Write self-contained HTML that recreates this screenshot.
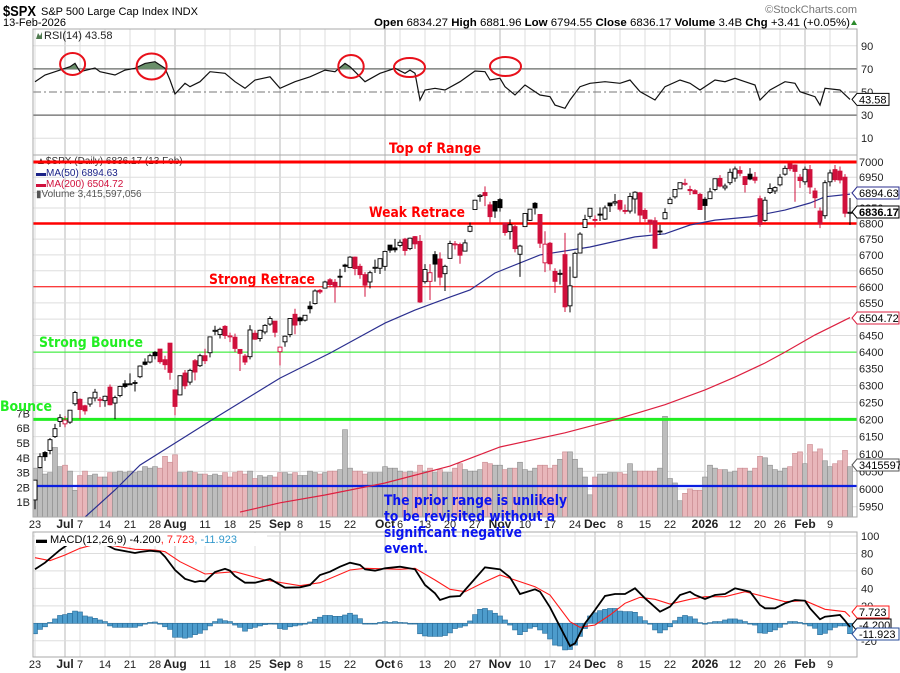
<!DOCTYPE html>
<html><head><meta charset="utf-8"><style>
html,body{margin:0;padding:0;background:#fff;}
svg{display:block;font-family:"Liberation Sans",Arial,sans-serif;}
</style></head><body>
<svg id="chart" xmlns="http://www.w3.org/2000/svg" width="900" height="673" viewBox="0 0 900 673">
<rect x="0" y="0" width="900" height="673" fill="#fff"/>
<text x="3" y="16" font-size="15" font-weight="bold" textLength="33" lengthAdjust="spacingAndGlyphs">$SPX</text>
<text x="41" y="15" font-size="11">S&amp;P 500 Large Cap Index  INDX</text>
<text x="3" y="26" font-size="11">13-Feb-2026</text>
<text x="857" y="13" font-size="11" fill="#777" text-anchor="end">©StockCharts.com</text>
<text x="374" y="26" font-size="11" textLength="476" lengthAdjust="spacingAndGlyphs"><tspan font-weight="bold">Open</tspan> 6834.27  <tspan font-weight="bold">High</tspan> 6881.96  <tspan font-weight="bold">Low</tspan> 6794.55  <tspan font-weight="bold">Close</tspan> 6836.17  <tspan font-weight="bold">Volume</tspan> 3.4B  <tspan font-weight="bold">Chg</tspan> +3.41 (+0.05%)</text>
<path d="M851 25 L854 20 L857 25 Z" fill="#2a8a2a"/>
<g id="layer"></g>
</svg>
<script>
const categoriesNote = "bar index 0 = 23-Jun-2025 ... 163 = 13-Feb-2026";
const closes=[6025,6092,6092,6141,6173,6205,6198,6227,6279,6229,6225,6263,6280,6259,6268,6243,6264,6297,6297,6305,6309,6358,6363,6389,6389,6371,6362,6339,6238,6329,6299,6345,6340,6389,6374,6446,6466,6469,6450,6449,6411,6396,6370,6467,6439,6466,6481,6502,6460,6415,6448,6502,6482,6495,6512,6532,6587,6584,6615,6607,6600,6631,6664,6693,6657,6638,6605,6644,6661,6688,6711,6715,6716,6740,6714,6753,6735,6553,6654,6644,6671,6630,6664,6736,6735,6699,6738,6791,6875,6891,6890,6822,6840,6851,6771,6796,6720,6728,6832,6846,6850,6737,6734,6672,6617,6642,6538,6603,6705,6766,6813,6849,6812,6829,6850,6857,6870,6846,6840,6887,6901,6827,6816,6800,6721,6775,6835,6878,6910,6932,6930,6906,6896,6845,6858,6902,6945,6921,6921,6966,6977,6963,6926,6944,6940,6797,6875,6913,6916,6950,6979,6978,6969,6939,6976,6918,6883,6798,6932,6964,6942,6941,6833,6836];
const opens=[5969,6061,6104,6110,6150,6194,6187,6192,6246,6259,6240,6245,6263,6256,6255,6295,6248,6270,6305,6305,6307,6326,6370,6370,6399,6409,6377,6427,6287,6272,6337,6310,6374,6359,6389,6398,6466,6453,6478,6449,6445,6408,6388,6386,6457,6441,6461,6485,6494,6401,6431,6453,6515,6504,6497,6540,6548,6589,6596,6622,6614,6633,6668,6660,6693,6664,6638,6615,6661,6658,6664,6731,6722,6730,6750,6720,6758,6743,6616,6617,6701,6687,6641,6689,6734,6733,6712,6775,6845,6887,6900,6860,6871,6877,6801,6774,6790,6702,6790,6810,6865,6829,6675,6737,6648,6640,6701,6541,6630,6706,6787,6823,6813,6830,6814,6866,6866,6874,6842,6840,6879,6899,6842,6811,6809,6776,6815,6864,6886,6912,6928,6910,6906,6894,6878,6880,6910,6946,6915,6932,6947,6972,6952,6960,6950,6880,6810,6900,6905,6925,6960,6995,6990,6950,6935,6975,6905,6840,6825,6935,6975,6970,6950,6834];
const highs=[6025,6102,6108,6146,6187,6215,6210,6227,6284,6262,6243,6265,6290,6266,6270,6303,6270,6299,6316,6336,6316,6360,6381,6395,6403,6409,6389,6427,6288,6330,6346,6350,6379,6395,6410,6446,6480,6474,6482,6459,6456,6409,6394,6482,6466,6468,6485,6509,6494,6416,6450,6502,6532,6508,6513,6555,6592,6593,6619,6627,6624,6656,6672,6696,6695,6672,6646,6650,6685,6689,6713,6731,6751,6749,6754,6755,6760,6763,6671,6671,6712,6708,6669,6745,6744,6739,6749,6803,6876,6895,6920,6870,6873,6882,6803,6813,6795,6732,6833,6847,6869,6829,6775,6741,6658,6654,6770,6663,6710,6772,6828,6849,6826,6852,6858,6866,6895,6877,6861,6899,6904,6902,6849,6812,6820,6796,6849,6885,6910,6932,6945,6922,6911,6899,6885,6915,6945,6957,6929,6978,6985,6986,6953,6980,6967,6890,6886,6930,6920,6960,6988,7002,6992,6960,6985,6990,6915,6852,6940,6975,6990,6985,6960,6882];
const lows=[5943,6059,6080,6099,6146,6178,6177,6187,6240,6201,6214,6237,6253,6236,6237,6241,6201,6265,6292,6303,6282,6322,6360,6366,6378,6365,6347,6317,6212,6271,6289,6302,6315,6355,6364,6384,6451,6441,6440,6430,6400,6343,6361,6378,6437,6432,6454,6480,6445,6360,6416,6445,6454,6482,6493,6518,6545,6578,6596,6598,6551,6600,6646,6659,6636,6625,6569,6595,6643,6640,6650,6707,6708,6724,6698,6715,6719,6550,6610,6559,6616,6604,6587,6689,6717,6672,6711,6772,6845,6870,6856,6800,6818,6838,6761,6749,6708,6631,6790,6808,6829,6722,6646,6651,6581,6607,6522,6521,6627,6705,6787,6815,6787,6808,6811,6837,6857,6839,6830,6832,6832,6801,6805,6771,6720,6763,6813,6864,6880,6912,6922,6892,6895,6845,6811,6880,6904,6917,6907,6925,6935,6953,6900,6940,6930,6789,6806,6895,6895,6920,6955,6970,6870,6915,6925,6895,6850,6785,6815,6920,6935,6930,6820,6795];
const volumesB=[3.3,3.3,2.9,3.0,4.7,3.4,3.5,3.1,1.8,2.8,3.1,2.8,2.9,2.7,2.7,3.0,3.0,3.1,3.0,3.1,3.0,3.1,3.4,3.3,3.4,3.3,4.1,3.7,4.2,3.0,3.0,3.1,3.0,2.9,2.9,2.8,2.9,2.8,3.0,2.7,3.0,3.1,2.9,3.1,2.6,2.8,2.7,2.8,2.7,3.0,3.0,2.9,3.0,2.8,2.8,3.1,3.0,2.9,3.0,3.1,3.1,3.2,5.9,3.3,3.1,3.1,2.9,3.0,3.0,3.0,3.4,3.3,3.3,3.1,3.0,3.1,3.0,3.5,3.1,3.3,3.0,3.2,3.0,3.0,3.3,3.6,3.2,3.1,3.1,3.2,3.7,3.6,3.5,3.5,3.2,3.3,3.3,3.7,3.2,3.1,3.3,3.5,3.5,3.3,3.5,3.9,4.4,4.4,3.9,3.3,2.7,1.5,2.7,2.9,2.9,3.0,3.0,3.0,2.9,3.6,3.1,3.1,3.1,3.1,3.1,3.3,6.8,2.6,2.3,1.1,1.6,1.9,1.8,1.8,2.7,3.5,3.3,3.2,3.2,3.0,3.1,3.3,3.3,3.1,3.3,4.1,4.0,3.5,3.2,3.1,3.3,3.4,4.3,4.4,3.6,4.9,4.4,4.6,3.8,3.4,3.6,3.8,4.5,3.4];
const ma50Idx=[10,16,21,28,36,49,59,70,76,83,87,92,101,111,120,126,131,136,143,150,155,158,163];
const ma50Val=[5921,5997,6068,6131,6204,6322,6397,6488,6528,6568,6590,6643,6700,6725,6757,6767,6795,6811,6821,6843,6866,6886,6895];
const ma200Idx=[41,49,58,70,83,93,106,116,126,134,140,146,150,156,163];
const ma200Val=[5935,5961,5983,6017,6065,6120,6161,6199,6243,6287,6325,6367,6400,6452,6505];
const rsiIdx=[0,2,5,7,8,9,12,13,16,18,20,22,24,26,27,28,30,31,33,35,38,40,42,44,47,49,52,55,58,60,62,63,66,69,72,74,75,76,77,78,80,82,85,88,90,91,93,94,96,98,101,103,104,106,107,109,111,114,117,119,121,124,126,129,131,133,136,138,140,142,144,145,147,150,152,153,156,157,158,161,163];
const rsiVal=[58.9,64.7,69,71.9,74.8,67.6,70.8,67.6,64.7,69,70.5,74.8,76.2,70.5,60.4,48.3,57.5,54.6,58.9,67.6,66.2,58.9,53.2,60.4,63.2,53.2,58.9,63.2,69,67.6,74.8,71.9,58.9,66.2,70.5,66.2,69,66.2,43.1,51.7,53.2,51.7,58.9,68.2,67.6,60.4,61.9,54.6,47.4,56.1,47.4,45.9,38.7,35.9,43.1,54.6,57.5,58.9,57.5,60.4,50.3,43.1,54.6,60.4,57.5,51.7,60.4,58.9,61.9,58.9,56.1,43.1,51.7,58.9,57.5,50.3,45.9,38.7,53.2,51.7,43.58];
const macdIdx=[0,2,5,7,9,11,14,16,20,21,23,25,26,28,30,32,33,34,36,38,39,40,42,44,47,50,53,55,57,59,61,63,65,66,68,70,73,76,78,80,81,83,85,86,90,93,95,97,100,101,103,105,107,108,110,112,114,116,118,120,122,125,127,129,131,132,134,136,138,140,143,145,146,148,150,152,154,155,157,158,161,162,163];
const macdVal=[62,69.4,84,92,96,95,90.6,84.8,80.5,81.7,83.2,82,76.3,61,51,47.3,48.5,48,58.8,62.4,60.3,54.2,46.5,46.5,50.7,40.8,41.2,43.9,55.3,59.1,64.8,69.4,66.8,61.9,60.3,63,64.8,61.9,43.9,34.4,26.7,30.5,31.3,38.1,64.1,61.9,52.7,33.6,38.9,36.2,18.3,-3.9,-26,-22.9,0,15.2,31.3,33.6,33.6,40.1,28.6,13.3,19,32.4,36.2,32.4,27.8,32.4,33.6,40.1,36.2,21,17.2,17.2,22.9,26.7,25.9,17.2,4.6,7.6,9.5,3,-4.2];
const signalIdx=[0,3,6,9,12,16,20,24,26,29,34,40,46,53,57,63,66,73,76,80,83,86,90,93,96,100,103,107,109,112,115,118,121,124,127,131,134,138,142,146,150,154,158,162,163];
const signalVal=[75.1,71.7,78.2,85.9,90.5,88.5,84.8,84,82,70.6,56.5,59.1,49.6,43.1,46.5,61,63,61.9,63,49.6,38.9,36.2,47.6,55.3,49.6,41.9,32.4,1.8,-4.6,-1.9,9.5,22.9,29.8,27.5,22.1,27.5,30.5,30.5,36.2,30.5,24.7,25.9,16,13.3,7.7];
const histVal=[-12,-7,-4,1,5,9,10,11.5,14,13,8.4,7.3,5.7,3.8,2,-3,-4.6,-4.6,-4.6,-4.6,-4.6,-3,-1,1,1.5,-1,-4,-7,-16,-16,-17,-16,-13,-11.5,-7.6,-3,2,5,3,2,-2,-4.6,-9,-6,-4.6,-3,-1.5,0,-1,-6,-7,-4,-3,-2,-1,1.5,4.6,7,9,9,8,8,9.5,11.5,9.5,5.3,0,-0.8,-0.8,1,2,1,2,1,0.8,0,0,-12,-14.5,-15,-15,-15,-14,-11,-6,-4.6,-3,2.7,10,16,17,14.5,11.5,8.4,3.8,-2,-7.6,-13,-9.5,-5.7,-4,-7.6,-11.5,-18,-25,-26,-30.5,-30,-25,-15,-6,8.4,12,14.5,16,17,17,14,13.4,13.4,12.6,7.6,3,-1,-7.6,-11,-7.6,-4,3,7,9,7.6,5,0.8,-1,0.8,2,2,3.8,5,5,3.8,2,0,-2,-11,-11.5,-9.5,-7.6,-4.6,-1,2,2,1,0,-3,-5.7,-13,-11.5,-7.6,-4.6,-3,-3,-11.9];
const dateTickIdx=[0,6,9,14,19,24,28,34,39,44,49,53,58,63,70,73,78,83,88,93,98,103,108,112,117,122,127,134,140,145,149,154,159];
const dateTickLabels=["23","Jul","7","14","21","28","Aug","11","18","25","Sep","8","15","22","Oct","6","13","20","27","Nov","10","17","24","Dec","8","15","22","2026","12","20","26","Feb","9"];
const dateTickMonth=[0,1,0,0,0,0,1,0,0,0,1,0,0,0,1,0,0,0,0,1,0,0,0,1,0,0,0,1,0,0,0,1,0];
const priceTicks=[5950,6000,6050,6100,6150,6200,6250,6300,6350,6400,6450,6500,6550,6600,6650,6700,6750,6800,6850,6900,6950,7000];
const volTicks=[1,2,3,4,5,6,7];
const rsiTicks=[90,70,50,30,10];
const macdTicks=[100,80,60,40,20,0,-20];

const NS="http://www.w3.org/2000/svg";
const L=33,R=857;
const X=i=>35+5*i;
const YP=p=>162+2121*Math.log(7000/p);
const YV=v=>517-v*14.8;
const YR=v=>92-(v-50)*1.155;
const YM=v=>623.3-v*0.873;
const root=document.getElementById('layer');
function el(tag,attrs,parent){const e=document.createElementNS(NS,tag);for(const k in attrs)e.setAttribute(k,attrs[k]);(parent||root).appendChild(e);return e;}
function txt(s,attrs,parent){const e=el('text',attrs,parent);e.textContent=s;return e;}
function grp(){return el('g',{});}

const defs=el('defs',{});
const cp1=el('clipPath',{id:'cpPrice'},defs);el('rect',{x:L,y:155,width:R-L,height:362},cp1);
const cp2=el('clipPath',{id:'cpRsiHi'},defs);el('rect',{x:L,y:29,width:R-L,height:YR(70)-29},cp2);
const cp3=el('clipPath',{id:'cpMacd'},defs);el('rect',{x:L,y:532,width:R-L,height:125},cp3);

const gGrid=grp();


const panels=[[29,155,'rsi-panel'],[155,517,'price-panel'],[532,657,'macd-panel']];
panels.forEach(p=>{
  for(let k=0;k<dateTickIdx.length;k++){
    const v=el('line',{x1:X(dateTickIdx[k]),x2:X(dateTickIdx[k]),y1:p[0],y2:p[1],stroke:dateTickMonth[k]?'#b8b8b8':'#dddddd','stroke-width':1},gGrid);
    
    
  }
});
priceTicks.forEach(t=>{
  const h=el('line',{x1:L,x2:R,y1:YP(t),y2:YP(t),stroke:'#dddddd'},gGrid);
  
  
});
[90,10].forEach(t=>{
  const h=el('line',{x1:L,x2:R,y1:YR(t),y2:YR(t),stroke:'#dddddd'},gGrid);
  
  
});
macdTicks.forEach(t=>{
  const h=el('line',{x1:L,x2:R,y1:YM(t),y2:YM(t),stroke:'#dddddd'},gGrid);
  
  
});

const gRsi=grp();


[70,30].forEach(t=>{
  const h=el('line',{x1:L,x2:R,y1:YR(t),y2:YR(t),stroke:'#666','stroke-width':1.3},gRsi);
  
  
});
const mid=el('line',{x1:L,x2:R,y1:YR(50),y2:YR(50),stroke:'#777','stroke-dasharray':'8,3,2,3'},gRsi);


let rp=rsiIdx.map((i,k)=>X(i)+','+YR(rsiVal[k]).toFixed(1));
const fillPts='M'+X(rsiIdx[0])+','+YR(70)+' L'+rp.join(' L')+' L'+X(rsiIdx[rsiIdx.length-1])+','+YR(70)+' Z';
const rf=el('path',{d:fillPts,fill:'#6a8f6a',stroke:'none','clip-path':'url(#cpRsiHi)'},gRsi);


const rl=el('polyline',{points:rp.join(' '),fill:'none',stroke:'#111','stroke-width':1.2},gRsi);


const rIcon=el('path',{d:'M36 39 L38 33 L40 36 L42 32 L42 39 Z',fill:'#4f7a4f'},gRsi);


const rLeg=txt('RSI(14) 43.58',{x:44,y:39,'font-size':11,fill:'#222'},gRsi);


rsiTicks.forEach(t=>{
  const a=txt(String(t),{x:861,y:YR(t)+4,'font-size':11,fill:'#222'},gRsi);
  
  
});
const circles=[[72.6,64,12.5,11],[151.6,66.5,15,13],[351,66.5,12.7,11.5],[409.5,67.5,15.5,9.5],[505.5,66.5,15.5,9.5]];
circles.forEach(c=>{
  const e=el('ellipse',{cx:c[0],cy:c[1],rx:c[2],ry:c[3],fill:'none',stroke:'#e8101a','stroke-width':2},gRsi);
  
  
});

const gVol=el('g',{'clip-path':'url(#cpPrice)'});


volumesB.forEach((v,i)=>{
  const down=i>0&&closes[i]<closes[i-1];
  const b=el('rect',{x:X(i)-2.5,y:YV(v),width:5,height:517-YV(v),fill:down?'#e8b6ba':'#bdbdbd',stroke:down?'#c98a90':'#8c8c8c','stroke-width':0.6},gVol);
  
  
});

const gAnn=grp();


const annLines=[[7000,'#ff0000',3,'top-of-range-line'],[6800,'#ff0000',2.5,'weak-retrace-line'],[6600,'#ff0000',1,'strong-retrace-line'],[6400,'#22ee22',1,'strong-bounce-line'],[6200,'#22ee22',3,'bounce-line']];
annLines.forEach(a=>{
  const l=el('line',{x1:L,x2:R,y1:YP(a[0]),y2:YP(a[0]),stroke:a[1],'stroke-width':a[2]},gAnn);
  
  
});
const bl=el('line',{x1:L,x2:R,y1:486,y2:486,stroke:'#0a1ee0','stroke-width':2.2},gAnn);



const gMa=el('g',{'clip-path':'url(#cpPrice)'});


const m50=el('polyline',{points:ma50Idx.map((i,k)=>X(i)+','+YP(ma50Val[k]).toFixed(1)).join(' '),fill:'none',stroke:'#2b2f8f','stroke-width':1.2},gMa);


const m200=el('polyline',{points:ma200Idx.map((i,k)=>X(i)+','+YP(ma200Val[k]).toFixed(1)).join(' '),fill:'none',stroke:'#dd2040','stroke-width':1.2},gMa);



const gC=el('g',{'clip-path':'url(#cpPrice)'});


closes.forEach((c,i)=>{
  const o=opens[i],h=highs[i],lo=lows[i];
  const down=i>0&&c<closes[i-1];
  const col=down?'#d0103c':'#000';
  const filled=c<o;
  const cx=X(i);
  const w=el('line',{x1:cx,x2:cx,y1:YP(h),y2:YP(lo),stroke:col,'stroke-width':1},gC);
  
  
  const top=YP(Math.max(o,c)),bot=YP(Math.min(o,c));
  const b=el('rect',{x:cx-2,y:top,width:4,height:Math.max(bot-top,1),fill:filled?col:'#fff',stroke:col,'stroke-width':0.9},gC);
  
  
});

const annT=[["Top of Range",389,153,92,'#ff0000','top-of-range-label'],["Weak Retrace",369,217,96,'#ff0000','weak-retrace-label'],["Strong Retrace",209,284,106,'#ff0000','strong-retrace-label'],["Strong Bounce",39,347,104,'#22ee22','strong-bounce-label'],["Bounce",0,411,52,'#22ee22','bounce-label'],
["The prior range is unlikely",384,505,183,'#0a14f0','prior-range-note-line1'],["to be revisited without a",384,521,171,'#0a14f0','prior-range-note-line2'],["significant negative",384,537,138,'#0a14f0','prior-range-note-line3'],["event.",384,553,44,'#0a14f0','prior-range-note-line4']];

const gLeg=grp();


const lg0=txt('▲$SPX (Daily) 6836.17 (13 Feb)',{x:36,y:164,'font-size':10,fill:'#333'},gLeg);


const lg1=txt('▬MA(50) 6894.63',{x:36,y:176,'font-size':10,fill:'#1a2288'},gLeg);


const lg2=txt('▬MA(200) 6504.72',{x:36,y:187,'font-size':10,fill:'#d0103c'},gLeg);


const lg3=txt('▮Volume 3,415,597,056',{x:36,y:197,'font-size':10,fill:'#555'},gLeg);


const redStrike=el('line',{x1:L,x2:R,y1:YP(7000),y2:YP(7000),stroke:'#ff0000','stroke-width':3},gLeg);



const gM=grp();


const gH=el('g',{'clip-path':'url(#cpMacd)'},gM);
histVal.forEach((v,i)=>{
  const y0=YM(0),y1=YM(v);
  const r=el('rect',{x:X(i)-2.5,y:Math.min(y0,y1),width:5,height:Math.max(Math.abs(y1-y0),0.8),fill:'#4d9ccc',stroke:'#2a6d99','stroke-width':0.6},gH);
  
  
});
const sg=el('polyline',{points:signalIdx.map((i,k)=>X(i)+','+YM(signalVal[k]).toFixed(1)).join(' '),fill:'none',stroke:'#ff1a1a','stroke-width':1.1,'clip-path':'url(#cpMacd)'},gM);


const ml=el('polyline',{points:macdIdx.map((i,k)=>X(i)+','+YM(macdVal[k]).toFixed(1)).join(' '),fill:'none',stroke:'#000','stroke-width':1.8,'clip-path':'url(#cpMacd)'},gM);


const mlb=el('rect',{x:35,y:533,width:232,height:13,fill:'#fff'},gM);


const mlt=el('text',{x:36,y:543,'font-size':11},gM);


mlt.innerHTML='<tspan font-weight="bold">▬</tspan> MACD(12,26,9) -4.200<tspan fill="#ff1a1a">, 7.723</tspan><tspan fill="#3399cc">, -11.923</tspan>';

const gF=grp();


panels.forEach(p=>{
  const f=el('rect',{x:L,y:p[0],width:R-L,height:p[1]-p[0],fill:'none',stroke:'#aaa','stroke-width':1},gF);
  
  
});

const gAx=grp();


priceTicks.forEach(t=>{
  const a=txt(String(t),{x:859,y:YP(t)+4,'font-size':11,fill:'#222'},gAx);
  
  
});
volTicks.forEach(t=>{
  const a=txt(t+'B',{x:30,y:YV(t)+4,'font-size':11,fill:'#222','text-anchor':'end'},gAx);
  
  
});
macdTicks.forEach(t=>{
  if(t===0)return;
  const a=txt(String(t),{x:861,y:YM(t)+4,'font-size':11,fill:'#222'},gAx);
  
  
});
[528,668].forEach(yy=>{
  dateTickIdx.forEach((i,k)=>{
    const a=txt(dateTickLabels[k],{x:X(i),y:yy,'font-size':dateTickMonth[k]?12:11,'font-weight':dateTickMonth[k]?'bold':'normal','text-anchor':'middle',fill:'#222'},gAx);
    
    
  });
});

const gAT=grp();


annT.forEach(a=>{
  const t=txt(a[0],{x:a[1],y:a[2],'font-size':14,'font-weight':'bold',fill:a[4],textLength:a[3],lengthAdjust:'spacingAndGlyphs','font-family':'"DejaVu Sans","Liberation Sans",sans-serif'},gAT);
  
  
});

const gTag=grp();


function tag(label,yc,col,bold,w,name){
  const g=el('g',{},gTag);
  
  
  el('path',{d:`M852 ${yc} L857 ${yc-6} L${857+w} ${yc-6} L${857+w} ${yc+6} L857 ${yc+6} Z`,fill:'#fff',stroke:col,'stroke-width':1},g);
  txt(label,{x:859,y:yc+4,'font-size':11,'font-weight':bold?'bold':'normal',fill:'#000'},g);
}
tag('43.58',YR(43.58),'#000',false,32,'rsi-value-tag');
tag('6894.63',193,'#2b2f8f',false,42,'ma50-value-tag');
tag('6836.17',212,'#000',true,42,'close-value-tag');
tag('6504.72',318,'#dd2040',false,42,'ma200-value-tag');
tag('3415597',465,'#555',false,42,'volume-value-tag');
tag('7.723',612,'#ff1a1a',false,32,'signal-value-tag');
tag('-4.200',625,'#000',false,34,'macd-value-tag');
tag('-11.923',634,'#2a4d99',false,42,'histogram-value-tag');
</script>
</body></html>
